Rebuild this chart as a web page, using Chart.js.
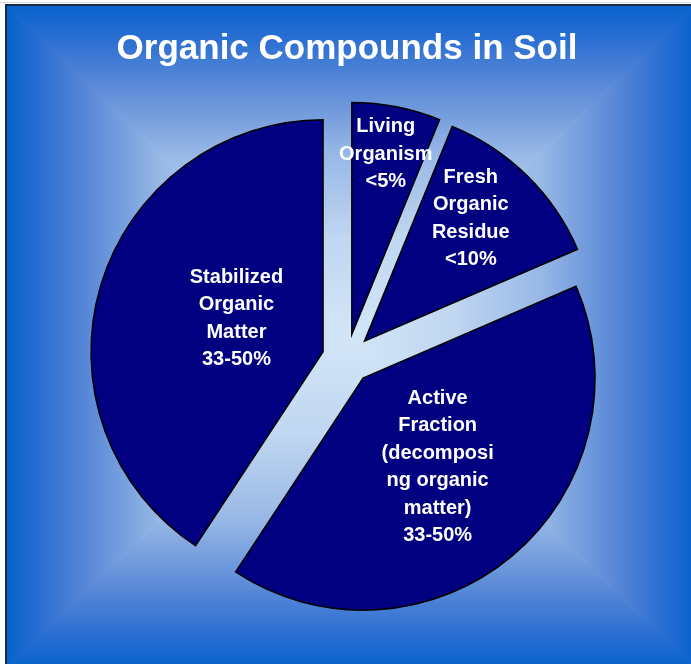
<!DOCTYPE html>
<html>
<head>
<meta charset="utf-8">
<title>Organic Compounds in Soil</title>
<script src="https://cdn.jsdelivr.net/npm/chart.js@4.4.0/dist/chart.umd.min.js"></script>
<style>
    html, body { margin: 0; padding: 0; background: #ffffff; }
    #wrap { width: 691px; height: 664px; }
</style>
</head>
<body>
<div id="wrap"><canvas id="soilChart" width="691" height="664"></canvas></div>
<script>
// ----------------------------
// 1. Chart data
// ----------------------------
const categories = ['Living Organism', 'Fresh Organic Residue', 'Active Fraction (decomposing organic matter)', 'Stabilized Organic Matter'];
const shares = [5, 10, 33, 33];
const shareLabels = ['<5%', '<10%', '33-50%', '33-50%'];
// label text as wrapped in the original slide
const labelLines = [
    ['Living', 'Organism', '<5%'],
    ['Fresh', 'Organic', 'Residue', '<10%'],
    ['Active', 'Fraction', '(decomposi', 'ng organic', 'matter)', '33-50%'],
    ['Stabilized', 'Organic', 'Matter', '33-50%']
];

// where each label sits: [fraction across the slice angle, fraction of radius]
const labelPlace = [[0.48, 0.79], [0.42, 0.70], [0.5, 0.50], [0.53, 0.40]];
const EXPLODE = 25;

// ----------------------------
// 2. Background frame (rectangular "from centre" gradient)
// ----------------------------
const frameBackground = {
    id: 'frameBackground',
    beforeDraw(chart) {
        const ctx = chart.ctx;
        const W = chart.width, H = chart.height;
        ctx.save();
        ctx.fillStyle = '#ffffff';
        ctx.fillRect(0, 0, W, H);

        const x0 = 6, y0 = 5, x1 = 696, y1 = 668;
        const cx = (x0 + x1) / 2, cy = (y0 + y1) / 2;
        const stops = [[0, '#d3e5f7'], [0.3, '#c0d6f1'], [0.55, '#98b8e6'], [0.75, '#5d8bd8'], [0.9, '#2a6ed2'], [1, '#0662cc']];
        const sides = [
            [[x0, y0], [x1, y0], [cx, y0]],
            [[x1, y0], [x1, y1], [x1, cy]],
            [[x1, y1], [x0, y1], [cx, y1]],
            [[x0, y1], [x0, y0], [x0, cy]]
        ];
        sides.forEach(s => {
            const g = ctx.createLinearGradient(cx, cy, s[2][0], s[2][1]);
            stops.forEach(st => g.addColorStop(st[0], st[1]));
            ctx.beginPath();
            ctx.moveTo(cx, cy);
            ctx.lineTo(s[0][0], s[0][1]);
            ctx.lineTo(s[1][0], s[1][1]);
            ctx.closePath();
            ctx.fillStyle = g;
            ctx.fill();
            ctx.strokeStyle = g;
            ctx.lineWidth = 1;
            ctx.stroke();
        });

        // frame edges (left and top only are visible)
        ctx.fillStyle = '#d4d8de';
        ctx.fillRect(0, 2, W, 1);
        ctx.fillStyle = '#172a48';
        ctx.fillRect(5, 4, 2, H - 4);
        ctx.fillRect(5, 4, W - 5, 2);
        ctx.restore();
    }
};

// ----------------------------
// 3. Exploded slices + labels
// ----------------------------
function sliceApex(arc) {
    const mid = (arc.startAngle + arc.endAngle) / 2;
    return { x: arc.x + Math.cos(mid) * EXPLODE, y: arc.y + Math.sin(mid) * EXPLODE };
}

const explodedPie = {
    id: 'explodedPie',
    beforeDatasetDraw(chart, args) {
        const ctx = chart.ctx;
        args.meta.data.forEach(arc => {
            const apex = sliceApex(arc);
            ctx.save();
            ctx.translate(apex.x - arc.x, apex.y - arc.y);
            arc.draw(ctx, chart.chartArea);
            ctx.restore();
        });
        return false;
    },
    afterDatasetsDraw(chart) {
        const ctx = chart.ctx;
        const arcs = chart.getDatasetMeta(0).data;
        ctx.save();
        ctx.fillStyle = '#ffffff';
        ctx.font = 'bold 20px "Liberation Sans", Arial, sans-serif';
        ctx.textAlign = 'center';
        ctx.textBaseline = 'middle';
        arcs.forEach((arc, i) => {
            const apex = sliceApex(arc);
            const a = arc.startAngle + (arc.endAngle - arc.startAngle) * labelPlace[i][0];
            const r = arc.outerRadius * labelPlace[i][1];
            const lx = apex.x + Math.cos(a) * r;
            const ly = apex.y + Math.sin(a) * r;
            const lines = labelLines[i];
            const lh = 27.5;
            lines.forEach((t, k) => {
                ctx.fillText(t, lx, ly + (k - (lines.length - 1) / 2) * lh);
            });
        });
        ctx.restore();
    }
};

// ----------------------------
// 4. Build chart
// ----------------------------
const ctx = document.getElementById('soilChart').getContext('2d');
const soilChart = new Chart(ctx, {
    type: 'pie',
    data: {
        labels: categories.map((c, i) => c + ' ' + shareLabels[i]),
        datasets: [{
            data: shares,
            backgroundColor: '#000080',
            borderColor: '#000000',
            borderWidth: 1.5,
            borderJoinStyle: 'miter'
        }]
    },
    options: {
        responsive: false,
        animation: false,
        radius: 232,
        layout: { padding: { left: 3, right: 0, top: 0, bottom: 26 } },
        plugins: {
            legend: { display: false },
            tooltip: { enabled: false },
            title: {
                display: true,
                text: 'Organic Compounds in Soil',
                color: '#ffffff',
                font: { family: '"Liberation Sans", Arial, sans-serif', size: 35, weight: 'bold', lineHeight: 1.2 },
                padding: { top: 28, bottom: 10 }
            }
        }
    },
    plugins: [frameBackground, explodedPie]
});
</script>
</body>
</html>
